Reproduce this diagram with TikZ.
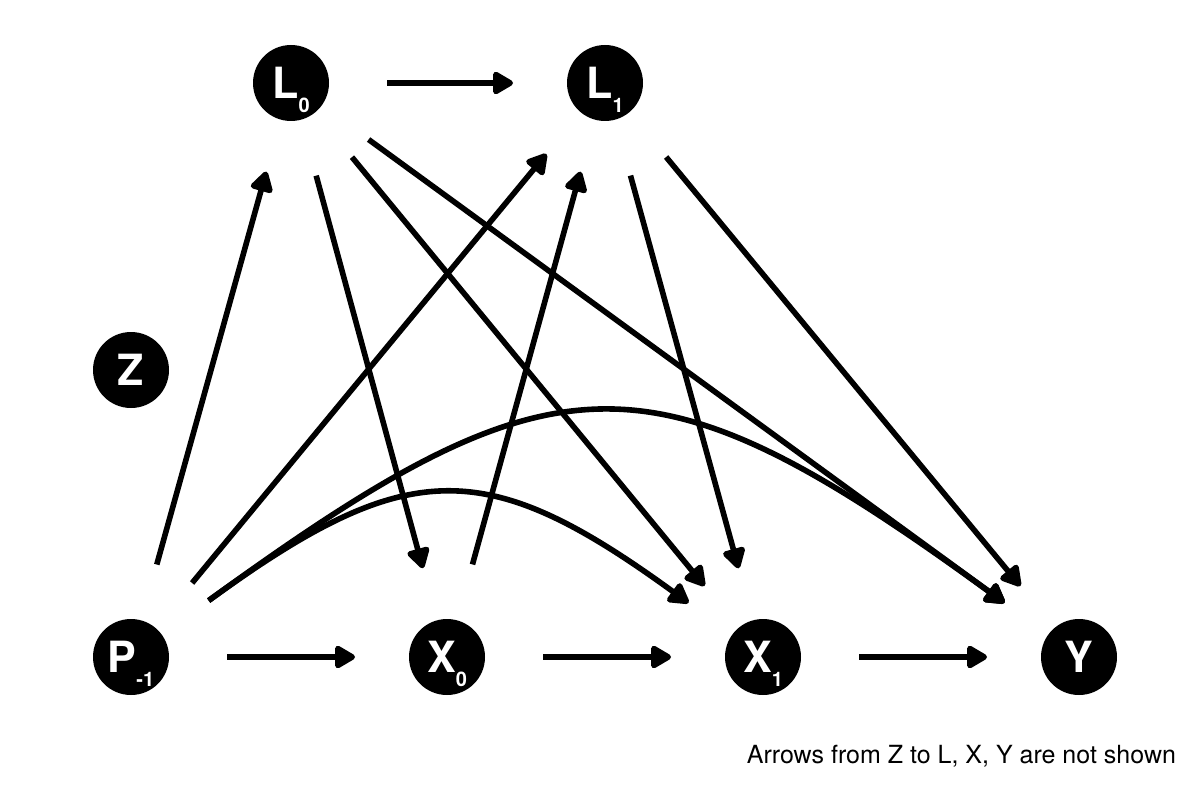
\documentclass[tikz,border=0pt]{standalone}
\usepackage{fontspec}
\setmainfont{TeX Gyre Heros}
\usetikzlibrary{arrows.meta}
\newcommand{\lowsub}[1]{\smash{\raisebox{-7pt}{\fontsize{10}{10}\selectfont #1}}}
\begin{document}
\begin{tikzpicture}[x = 0.5pt, y = 0.5pt,
var/.style = {circle, fill = black, text = white, minimum size = 38pt, inner sep = 0pt, outer sep = 27pt, font = \bfseries\fontsize{21.5}{21.5}\selectfont},
arr/.style = {-{Triangle[length = 11.5pt, width = 12.5pt, round]}, line width = 2.8pt, shorten < = 2pt}]
\useasboundingbox (0,0) rectangle (1200,800);
\foreach \n/\x/\y/\t in {L0/291/717/{L\lowsub{0}}, L1/605/717/{L\lowsub{1}}, Z/131/430/{Z}, P/131/143/{P\lowsub{-1}}, X0/447/143/{X\lowsub{0}}, X1/763/143/{X\lowsub{1}}, Y/1079/143/{Y}}{
\node[var] (\n) at (\x, \y) {\t};
}
\foreach \a/\b in {L0/L1, P/L0, P/L1, P/X0, X0/L1, L0/X0, L0/X1, L0/Y, L1/X1, L1/Y, X0/X1, X1/Y}{
\draw[arr] (\a) -- (\b);
}
\draw[arr] (P) to[out = 36, in = 144, looseness = 1.33] (X1);
\draw[arr] (P) to[out = 36, in = 144, looseness = 1.4] (Y);
\node[anchor = base east, font = \fontsize{12.5}{14}\selectfont] (note) at (1183, 37) {Arrows from Z to L, X, Y are not shown};
\end{tikzpicture}
\end{document}
